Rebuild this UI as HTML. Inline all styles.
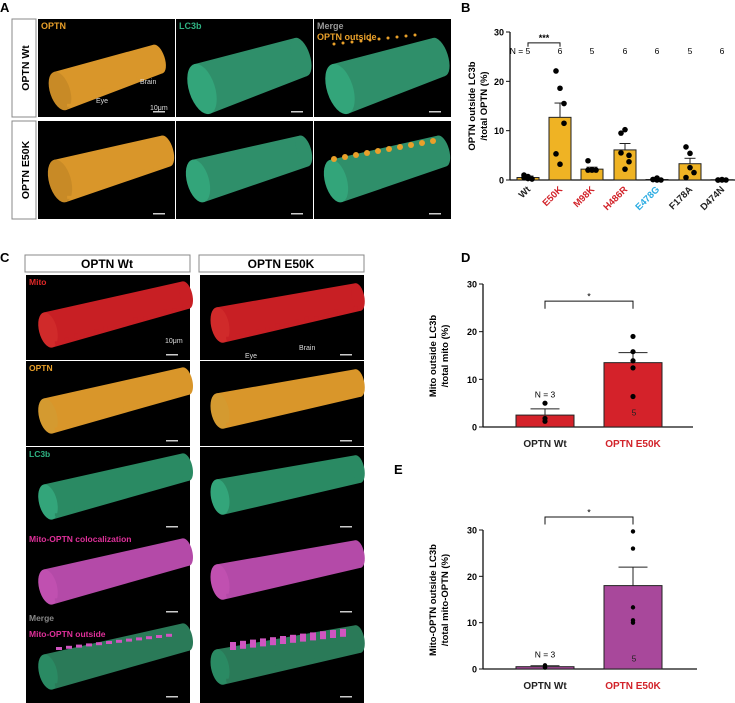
<!DOCTYPE html>
<html><head><meta charset="utf-8"><style>
html,body{margin:0;padding:0;background:#fff;}
svg{display:block;font-family:"Liberation Sans",Arial,sans-serif;}
</style></head><body>
<svg id="fig" width="735" height="703" viewBox="0 0 735 703" xmlns="http://www.w3.org/2000/svg">
<text x="0" y="12" font-size="13" font-weight="bold">A</text>
<text x="461" y="12" font-size="13" font-weight="bold">B</text>
<text x="0" y="262" font-size="13" font-weight="bold">C</text>
<text x="461" y="262" font-size="13" font-weight="bold">D</text>
<text x="394" y="474" font-size="13" font-weight="bold">E</text>
<g id="imgs"></g>
<g id="charts"></g>
</svg>
<script>
// ===== Panel B data =====
const bCats = ["Wt","E50K","M98K","H486R","E478G","F178A","D474N"];
const bCatColors = ["#222","#d2232a","#d2232a","#d2232a","#29abe2","#222","#222"];
const bMeans = [0.5,12.7,2.2,6.1,0.1,3.3,0.05];
const bErr = [0.8,15.6,2.6,7.4,0.3,4.4,0.1];
const bN = ["N = 5","6","5","6","6","5","6"];
const bDots = [[1,0.3,0.2,0.5,0.7],[22.1,18.6,11.5,5.3,3.2,15.5],[3.9,2,2,2,2.1],[9.5,10.2,3.7,5.5,2.2,5.0],[0.1,0.4,0,0.1,0],[6.7,5.4,1.5,0.5,2.5],[0,0.1,0,0,0]];
const yTicks = [0,10,20,30];
// ===== Panel D data =====
const dCats = ["OPTN Wt","OPTN E50K"];
const dMeans = [2.5,13.5];
const dErr = [3.8,15.6];
const dDots = [[5,1.2,1.8],[19,15.8,13.9,12.4,6.4]];
// ===== Panel E data =====
const eMeans = [0.5,18];
const eErr = [0.7,22];
const eDots = [[0.8,0.3,0.4],[29.7,26,13.3,10.5,10]];

const NS="http://www.w3.org/2000/svg";
function mk(parent,tag,attrs,name,text){
  const e=document.createElementNS(NS,tag);
  for(const k in attrs)e.setAttribute(k,attrs[k]);
  
  
  if(text!==undefined)e.textContent=text;
  parent.appendChild(e);return e;
}
const charts=document.getElementById('charts');
const imgs=document.getElementById('imgs');

// ---------- images ----------
function panel(x,y,w,h,name){mk(imgs,'rect',{x:x,y:y,width:w,height:h,fill:'#000'},name);}
function tube(x,y,x1,y1,r1,x2,y2,r2,col,cap,name,bumpy){
  const g=mk(imgs,'g',{},name);
  const dx=x2-x1,dy=y2-y1,L=Math.hypot(dx,dy),nx=-dy/L,ny=dx/L;
  const pts=[[x1+nx*r1,y1+ny*r1],[x2+nx*r2,y2+ny*r2],[x2-nx*r2,y2-ny*r2],[x1-nx*r1,y1-ny*r1]].map(p=>(x+p[0])+','+(y+p[1])).join(' ');
  mk(g,'polygon',{points:pts,fill:col},'tube-body');
  mk(g,'ellipse',{cx:x+x2,cy:y+y2,rx:r2*0.45,ry:r2,fill:col,transform:`rotate(${Math.atan2(dy,dx)*180/Math.PI} ${x+x2} ${y+y2})`},'tube-end');
  mk(g,'ellipse',{cx:x+x1,cy:y+y1,rx:r1*0.5,ry:r1,fill:cap,transform:`rotate(${Math.atan2(dy,dx)*180/Math.PI} ${x+x1} ${y+y1})`},'tube-cap');
  if(bumpy){for(let i=0;i<14;i++){const t=(i+0.5)/14;const bx=x+x1+dx*t+nx*(r1+(r2-r1)*t)*0.9,by=y+y1+dy*t+ny*(r1+(r2-r1)*t)*0.9;
    mk(g,'rect',{x:bx-2,y:by-(i%3+3),width:4,height:(i%3+3),fill:col},'tube-bump');}}
}
function scale(x,y){mk(imgs,'rect',{x:x,y:y,width:12,height:1.5,fill:'#ccc'},'scale-bar');}
// Panel A
[[12,19],[12,121]].forEach((p,i)=>{mk(imgs,'rect',{x:p[0],y:p[1],width:24,height:98,fill:'#fff',stroke:'#888','stroke-width':1},'row-label-box');
  mk(imgs,'text',{x:p[0]+17,y:p[1]+49,'font-size':10.5,'font-weight':'bold','text-anchor':'middle',transform:`rotate(-90 ${p[0]+17} ${p[1]+49})`},'row-label',i?'OPTN E50K':'OPTN Wt');});
const colsA=[38,176,314],rowsA=[19,121];
const colA=['#d9962a','#2f8f6a','#2f8f6a'];
rowsA.forEach((ry,ri)=>colsA.forEach((cx,ci)=>{
  panel(cx,ry,137,98,'image-a-'+ri+'-'+ci);
  if(ri===0)tube(cx,ry,ci===0?22:26,ci===0?72:70,ci===0?20:26,ci===0?120:125,ci===0?40:38,ci===0?15:20,colA[ci],ci===0?'#c88a26':'#33a57a','cylinder',ci===0);
  else tube(cx,ry,22,60,22,128,30,16,colA[ci],ci===0?'#c88a26':'#33a57a','cylinder',ci===0);
  scale(cx+115,ry+92);
  if(ci===2){for(let k=0;k<10;k++)mk(imgs,'circle',{cx:cx+20+k*(ri?11:9),cy:ry+(ri?38-k*2:25-k),r:ri?3:1.5,fill:'#e9a02a'},'optn-outside-blob');}
}));
mk(imgs,'text',{x:41,y:29,'font-size':9,'font-weight':'bold',fill:'#e9a02a'},'label-optn','OPTN');
mk(imgs,'text',{x:179,y:29,'font-size':9,'font-weight':'bold',fill:'#2fb383'},'label-lc3b','LC3b');
mk(imgs,'text',{x:317,y:29,'font-size':9,'font-weight':'bold',fill:'#999'},'label-merge','Merge');
mk(imgs,'text',{x:317,y:40,'font-size':9,'font-weight':'bold',fill:'#e9a02a'},'label-optn-outside','OPTN outside');
mk(imgs,'text',{x:140,y:84,'font-size':7,fill:'#ddd'},'label-brain','Brain');
mk(imgs,'text',{x:96,y:103,'font-size':7,fill:'#ddd'},'label-eye','Eye');
mk(imgs,'text',{x:150,y:110,'font-size':7,fill:'#ddd'},'label-10um','10μm');
// Panel C
[[25,'OPTN Wt'],[199,'OPTN E50K']].forEach(h=>{mk(imgs,'rect',{x:h[0],y:255,width:165,height:17,fill:'#fff',stroke:'#888','stroke-width':1},'column-header-box');
  mk(imgs,'text',{x:h[0]+82,y:268,'font-size':12,'font-weight':'bold','text-anchor':'middle'},'column-header',h[1]);});
const rowsC=[275,361,447,532,617],colsC=[26,200];
const colC=['#c81f24','#d9962a','#2a8a63','#b44aa8','#2a7a58'];
const capC=['#d02a2a','#d49a30','#33a57a','#c050b0','#2a8a63'];
const labC=[['Mito','#e02828'],['OPTN','#e9a02a'],['LC3b','#2fb383'],['Mito-OPTN colocalization','#e0309a'],['Mito-OPTN outside','#e0309a']];
rowsC.forEach((ry,ri)=>colsC.forEach((cx,ci)=>{
  panel(cx,ry,164,ri===4?86:85,'image-c-'+ri+'-'+ci);
  tube(cx,ry,ci?20:22,ci?50:55,ci?18:18,ci?158:160,ci?22:20,14,colC[ri],capC[ri],'cylinder',ri!==2||ci===0);
  if(ri===4){for(let k=0;k<12;k++)mk(imgs,'rect',{x:cx+30+k*10,y:ry+(ci?25:30)-k*1.2,width:6,height:ci?8:3,fill:'#d055c0'},'mito-outside-blob');}
}));
rowsC.forEach((ry,ri)=>colsC.forEach(cx=>mk(imgs,'rect',{x:cx+140,y:ry+79,width:12,height:1.5,fill:'#ccc'},'scale-bar')));
labC.forEach((l,i)=>mk(imgs,'text',{x:29,y:rowsC[i]+(i===4?20:10),'font-size':8.5,'font-weight':'bold',fill:l[1]},'label-'+i,l[0]));
mk(imgs,'text',{x:29,y:621,'font-size':8.5,'font-weight':'bold',fill:'#888'},'label-merge-c','Merge');
mk(imgs,'text',{x:299,y:350,'font-size':7,fill:'#ddd'},'label-brain-c','Brain');
mk(imgs,'text',{x:245,y:358,'font-size':7,fill:'#ddd'},'label-eye-c','Eye');
mk(imgs,'text',{x:165,y:343,'font-size':7,fill:'#ddd'},'label-10um-c','10μm');

// ---------- charts ----------
function chart(o){
  const g=mk(charts,'g',{},o.name);
  const y=v=>o.y0-(v/30)*(o.y0-o.y30);
  const xc=i=>o.xs[i];
  mk(g,'line',{x1:o.ax,y1:o.y30,x2:o.ax,y2:o.y0,stroke:'#111','stroke-width':1.3},'y-axis');
  mk(g,'line',{x1:o.ax,y1:o.y0,x2:o.xend,y2:o.y0,stroke:'#111','stroke-width':1.3},'x-axis');
  yTicks.forEach(t=>{mk(g,'line',{x1:o.ax-4,y1:y(t),x2:o.ax,y2:y(t),stroke:'#111'},'y-tick');
    mk(g,'text',{x:o.ax-6,y:y(t)+3.5,'font-size':9,'font-weight':'bold','text-anchor':'end'},'y-tick-label',t);});
  o.means.forEach((m,i)=>{
    mk(g,'rect',{x:xc(i)-o.bw/2,y:y(m),width:o.bw,height:o.y0-y(m),fill:o.fill,stroke:'#222','stroke-width':1},'bar-'+i);
    mk(g,'line',{x1:xc(i),y1:y(m),x2:xc(i),y2:y(o.err[i]),stroke:'#222'},'error-bar');
    mk(g,'line',{x1:xc(i)-o.bw*0.25,y1:y(o.err[i]),x2:xc(i)+o.bw*0.25,y2:y(o.err[i]),stroke:'#222'},'error-cap');
    o.dots[i].forEach((d,k)=>{const off=o.dots[i].length>1?((k%3)-1)*o.jit:0;
      mk(g,'circle',{cx:xc(i)+off,cy:y(d),r:o.r,fill:'#000'},'data-point');});
  });
  return y;
}
// B
const bx=[528,560,592,625,657,690,722];
const yb=chart({name:'chart-b',ax:510,y0:180,y30:32,xend:735,xs:bx,bw:22,fill:'#efb324',means:bMeans,err:bErr,dots:bDots,r:2.8,jit:4});
bCats.forEach((c,i)=>mk(charts,'text',{x:bx[i]+3,y:190,'font-size':9.5,'font-weight':'bold',fill:bCatColors[i],'text-anchor':'end',transform:`rotate(-45 ${bx[i]+3} 190)`},'x-label-'+c,c));
bN.forEach((n,i)=>mk(charts,'text',{x:bx[i]+(i?0:-8),y:yb(25.5),'font-size':8.5,'text-anchor':'middle'},'n-label',n));
mk(charts,'path',{d:`M${bx[0]},${yb(27)} V${yb(27.8)} H${bx[1]} V${yb(27)}`,fill:'none',stroke:'#111'},'significance-bracket');
mk(charts,'text',{x:(bx[0]+bx[1])/2,y:yb(28.2),'font-size':9,'font-weight':'bold','text-anchor':'middle'},'significance-label','***');
mk(charts,'text',{x:475,y:106,'font-size':9.5,'font-weight':'bold','text-anchor':'middle',transform:'rotate(-90 475 106)'},'y-axis-title-b-1','OPTN outside LC3b');
mk(charts,'text',{x:487,y:106,'font-size':9.5,'font-weight':'bold','text-anchor':'middle',transform:'rotate(-90 487 106)'},'y-axis-title-b-2','/total OPTN (%)');
// D
const dx=[545,633];
const yd=chart({name:'chart-d',ax:483,y0:427,y30:284,xend:693,xs:dx,bw:58,fill:'#d4222a',means:dMeans,err:dErr,dots:dDots,r:2.6,jit:0});
// E
const ye=chart({name:'chart-e',ax:483,y0:669,y30:530,xend:697,xs:dx,bw:58,fill:'#a8489b',means:eMeans,err:eErr,dots:eDots,r:2.2,jit:0});
[[427,yd,'d'],[669,ye,'e']].forEach(p=>{
  dCats.forEach((c,i)=>mk(charts,'text',{x:dx[i],y:p[0]+20,'font-size':10,'font-weight':'bold','text-anchor':'middle',fill:i?'#d2232a':'#222'},'x-label-'+p[2]+'-'+i,c));
  mk(charts,'text',{x:dx[0],y:p[1](p[2]==='d'?6.2:2.5),'font-size':8.5,'text-anchor':'middle'},'n-label','N = 3');
  mk(charts,'text',{x:dx[1]+1,y:p[1](p[2]==='d'?3.3:2.5)+4,'font-size':8.5,'text-anchor':'middle',fill:'#222'},'n-label','5');
});
mk(charts,'path',{d:`M${dx[0]},${yd(24.8)} V${yd(26.4)} H${dx[1]} V${yd(24.8)}`,fill:'none',stroke:'#111'},'significance-bracket-d');
mk(charts,'text',{x:589,y:yd(26.7),'font-size':9,'text-anchor':'middle'},'significance-label-d','*');
mk(charts,'path',{d:`M${dx[0]},${ye(31.2)} V${ye(32.8)} H${dx[1]} V${ye(31.2)}`,fill:'none',stroke:'#111'},'significance-bracket-e');
mk(charts,'text',{x:589,y:ye(33.1),'font-size':9,'text-anchor':'middle'},'significance-label-e','*');
[[436,'Mito outside LC3b',356],[448,'/total mito (%)',356],[436,'Mito-OPTN outside LC3b',600],[448,'/total mito-OPTN (%)',600]].forEach((t,i)=>
  mk(charts,'text',{x:t[0],y:t[2],'font-size':9.5,'font-weight':'bold','text-anchor':'middle',transform:`rotate(-90 ${t[0]} ${t[2]})`},'y-axis-title-'+i,t[1]));
</script>
</body></html>
